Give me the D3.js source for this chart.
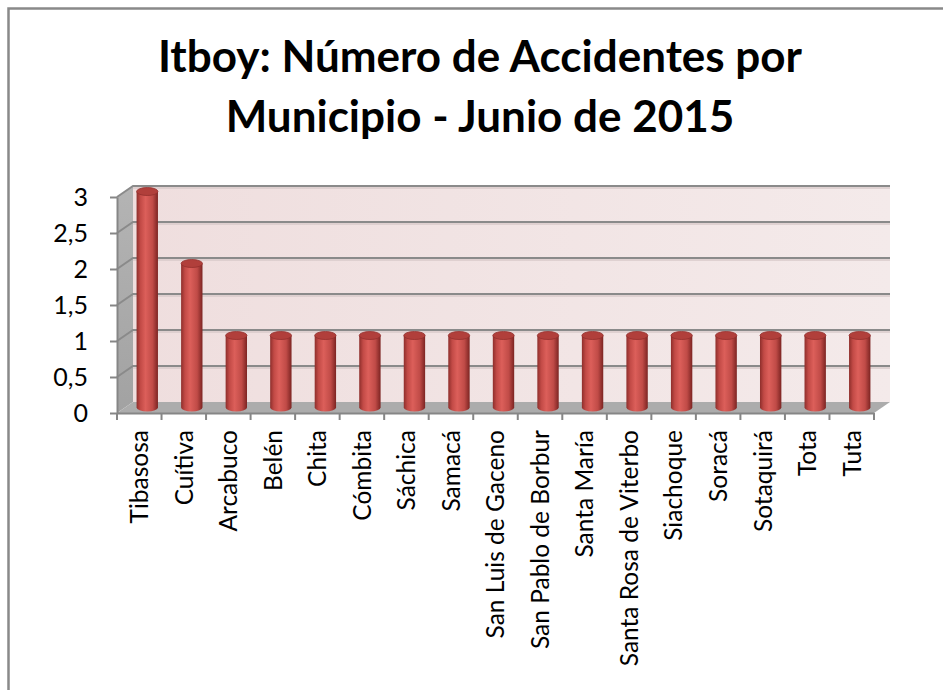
<!DOCTYPE html>
<html>
<head>
<meta charset="utf-8">
<script src="https://cdn.jsdelivr.net/npm/d3@7"></script>
<style>
  html, body { margin: 0; padding: 0; background: #fff; overflow: hidden; }
  #chart { width: 943px; height: 690px; }
</style>
</head>
<body>
<div id="chart"></div>
<script>
// datos: accidentes por municipio, junio 2015
const municipios = ['Tibasosa', 'Cuítiva', 'Arcabuco', 'Belén', 'Chita', 'Cómbita', 'Sáchica', 'Samacá',
  'San Luis de Gaceno', 'San Pablo de Borbur', 'Santa María', 'Santa Rosa de Viterbo', 'Siachoque',
  'Soracá', 'Sotaquirá', 'Tota', 'Tuta']
const accidentes = [3, 2, 1, 1, 1, 1, 1, 1, 1, 1, 1, 1, 1, 1, 1, 1, 1]
const yTicks = [0, 0.5, 1, 1.5, 2, 2.5, 3]
const yTickLabels = ['0', '0,5', '1', '1,5', '2', '2,5', '3']
const titulo = ['Itboy: Número de Accidentes por', 'Municipio - Junio de 2015']

const width = 943, height = 690
const depth = { dx: 16, dy: -11 } // profundidad del efecto 3D
const font = 'Lato, "Open Sans", sans-serif'

const svg = d3.select('#chart').append('svg')
  .attr('width', width)
  .attr('height', height)

const defs = svg.append('defs')

// degradados
const wallGrad = defs.append('linearGradient').attr('id', 'wallGrad')
wallGrad.append('stop').attr('offset', '0%').attr('stop-color', '#efdede')
wallGrad.append('stop').attr('offset', '100%').attr('stop-color', '#f4eaea')

const sideGrad = defs.append('linearGradient').attr('id', 'sideGrad')
  .attr('x1', '0%').attr('y1', '0%').attr('x2', '0%').attr('y2', '100%')
sideGrad.append('stop').attr('offset', '0%').attr('stop-color', '#b4b4b4')
sideGrad.append('stop').attr('offset', '100%').attr('stop-color', '#a2a2a2')

const cylGrad = defs.append('linearGradient').attr('id', 'cylGrad')
cylGrad.append('stop').attr('offset', '0%').attr('stop-color', '#8e2e2b')
cylGrad.append('stop').attr('offset', '18%').attr('stop-color', '#c24a46')
cylGrad.append('stop').attr('offset', '42%').attr('stop-color', '#dc5f5a')
cylGrad.append('stop').attr('offset', '75%').attr('stop-color', '#c04b47')
cylGrad.append('stop').attr('offset', '100%').attr('stop-color', '#7c2422')

// marco
svg.append('rect')
  .attr('x', 8.5).attr('y', 8.5)
  .attr('width', 960).attr('height', 720)
  .attr('fill', '#fff')
  .attr('stroke', '#898989')
  .attr('stroke-width', 2.5)

// titulo
svg.append('text')
  .attr('text-anchor', 'middle')
  .attr('font-family', font)
  .attr('font-weight', 'bold')
  .attr('font-size', 44)
  .attr('fill', '#000')
  .selectAll('tspan')
  .data(titulo)
  .enter()
  .append('tspan')
  .attr('x', 480)
  .attr('y', (d, i) => 72 + i * 60)
  .text(d => d)

// escalas
const x = d3.scaleBand().domain(municipios).range([117, 874])
const y = d3.scaleLinear().domain([0, 3]).range([413, 197])

const x0 = x.range()[0], x1 = x.range()[1]
const yBottom = y(0), yTop = y(d3.max(yTicks))

const plot = svg.append('g')

// pared del fondo
plot.append('rect')
  .attr('x', x0 + depth.dx)
  .attr('y', yTop + depth.dy)
  .attr('width', x1 - x0)
  .attr('height', yBottom - yTop)
  .attr('fill', 'url(#wallGrad)')

// pared lateral
plot.append('path')
  .attr('d', `M${x0},${yTop}L${x0 + depth.dx},${yTop + depth.dy}L${x0 + depth.dx},${yBottom + depth.dy}L${x0},${yBottom}Z`)
  .attr('fill', 'url(#sideGrad)')

// piso
plot.append('path')
  .attr('d', `M${x0},${yBottom}L${x0 + depth.dx},${yBottom + depth.dy}L${x1 + depth.dx},${yBottom + depth.dy}L${x1},${yBottom}Z`)
  .attr('fill', '#acacac')

// lineas de cuadricula (fondo + lateral)
const grid = plot.append('g')
grid.selectAll('.gridBack')
  .data(yTicks.filter(d => d > 0))
  .enter()
  .append('path')
  .attr('d', d => `M${x0},${y(d)}L${x0 + depth.dx},${y(d) + depth.dy}L${x1 + depth.dx},${y(d) + depth.dy}`)
  .attr('fill', 'none')
  .attr('stroke', '#8a8a8a')
  .attr('stroke-width', 2)

// sombra suave bajo cada linea
grid.selectAll('.gridShadow')
  .data(yTicks.filter(d => d > 0))
  .enter()
  .append('line')
  .attr('x1', x0 + depth.dx)
  .attr('x2', x1 + depth.dx)
  .attr('y1', d => y(d) + depth.dy + 2)
  .attr('y2', d => y(d) + depth.dy + 2)
  .attr('stroke', '#d9caca')
  .attr('stroke-width', 1.5)

// eje Y
const yAxis = d3.axisLeft(y)
  .tickValues(yTicks)
  .tickFormat((d, i) => yTickLabels[i])
  .tickSize(7)
  .tickSizeOuter(0)
  .tickPadding(22)

const gy = svg.append('g')
  .attr('transform', `translate(${x0},0)`)
  .call(yAxis)
gy.select('.domain').attr('stroke', '#868686').attr('stroke-width', 2)
gy.selectAll('.tick line').attr('stroke', '#868686').attr('stroke-width', 2)
gy.selectAll('.tick text')
  .attr('font-family', font)
  .attr('font-size', 25)
  .attr('fill', '#000')

// eje X
const xAxis = d3.axisBottom(x).tickSize(0).tickSizeOuter(0).tickPadding(0)
const gx = svg.append('g')
  .attr('transform', `translate(0,${yBottom})`)
  .call(xAxis)
gx.select('.domain').attr('stroke', '#868686').attr('stroke-width', 2)
gx.selectAll('.tick text')
  .attr('font-family', font)
  .attr('font-size', 24.5)
  .attr('fill', '#000')
  .attr('text-anchor', 'end')
  .attr('transform', 'rotate(-90)')
  .attr('x', -17)
  .attr('y', 0)
  .attr('dy', '0.36em')

// marcas entre categorias
const bounds = municipios.map(d => x(d)).concat([x1])
gx.selectAll('.sep')
  .data(bounds)
  .enter()
  .append('line')
  .attr('x1', d => d).attr('x2', d => d)
  .attr('y1', 0).attr('y2', 7)
  .attr('stroke', '#868686')
  .attr('stroke-width', 2)

// cilindros
const rx = x.bandwidth() * 0.24, ry = 4
const bars = plot.append('g')
municipios.forEach((m, i) => {
  const cx = x(m) + x.bandwidth() / 2 + depth.dx / 2
  const yb = y(0) + depth.dy / 2
  const yt = y(accidentes[i]) + depth.dy / 2
  const g = bars.append('g')
  g.append('path')
    .attr('d', `M${cx - rx},${yt}L${cx - rx},${yb}A${rx},${ry} 0 0 0 ${cx + rx},${yb}L${cx + rx},${yt}Z`)
    .attr('fill', 'url(#cylGrad)')
  g.append('ellipse')
    .attr('cx', cx).attr('cy', yt)
    .attr('rx', rx).attr('ry', ry)
    .attr('fill', '#b13f3b')
    .attr('stroke', '#93302d')
    .attr('stroke-width', 0.8)
})
</script>
</body>
</html>
